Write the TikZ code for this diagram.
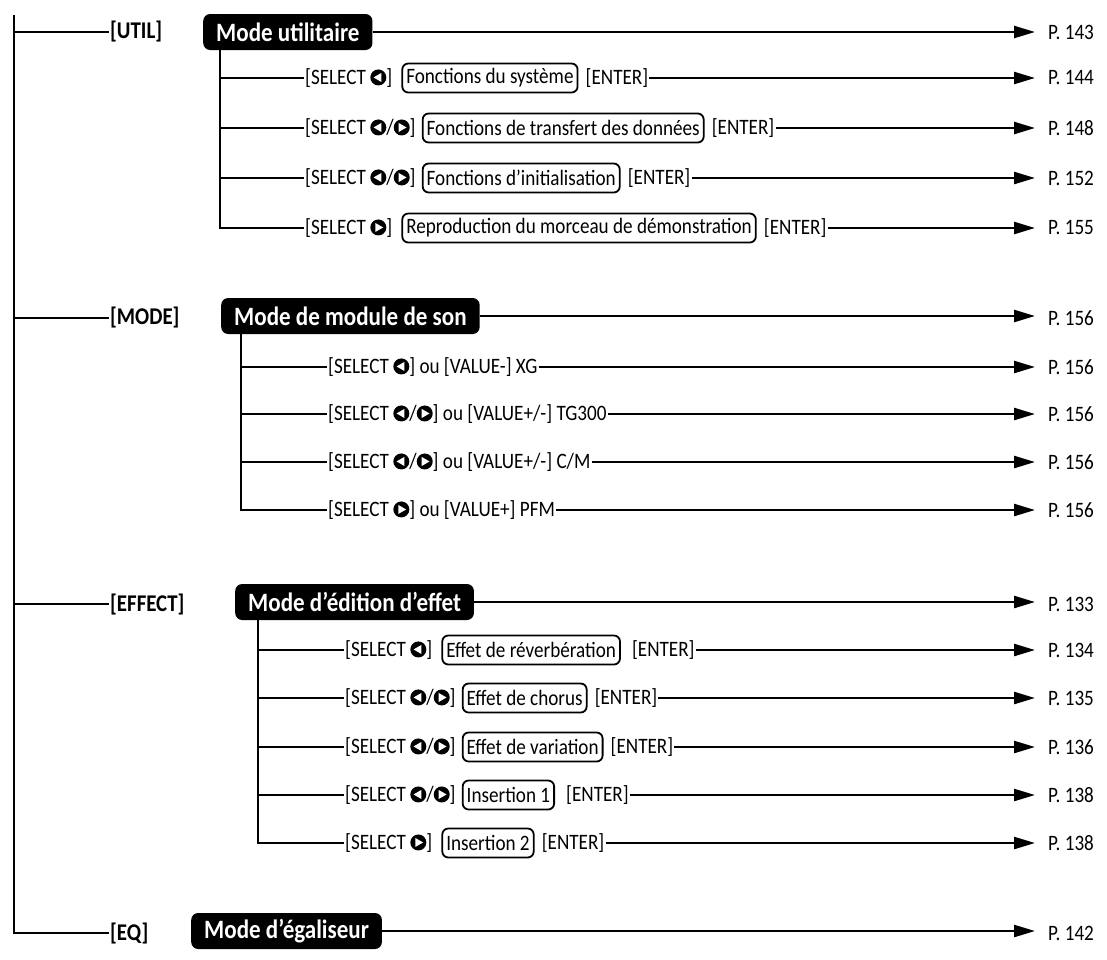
\documentclass[tikz,border=0pt]{standalone}
\usepackage{fontspec}
\setmainfont{Carlito}[FakeStretch=0.87]
\usetikzlibrary{arrows.meta, positioning}

% round select keys
\newcommand\selL{\tikz[baseline={(0pt,-7pt)}]{\fill (0pt,0pt) circle (8pt); \fill[white] (-4.8pt,0pt) -- (3pt,4.5pt) -- (3pt,-4.5pt) -- cycle;}}
\newcommand\selR{\tikz[baseline={(0pt,-7pt)}]{\fill (0pt,0pt) circle (8pt); \fill[white] (4.8pt,0pt) -- (-3pt,4.5pt) -- (-3pt,-4.5pt) -- cycle;}}

\begin{document}
\begin{tikzpicture}[x=1pt, y=-1pt, font=\fontsize{22}{25}\selectfont,
      >={Triangle[length=21pt, width=12pt]},
      trunk/.style={line width=2.8pt},
      branch/.style={line width=2.4pt},
      pointer/.style={line width=2.4pt, ->, shorten >=13pt},
      modebox/.style={fill=black, text=white, rounded corners=7pt, inner xsep=13pt, minimum height=36pt, anchor=west,
        font=\bfseries\fontsize{26.5}{30}\selectfont},
      keylabel/.style={font=\bfseries\fontsize{24}{26}\selectfont, inner sep=1pt, anchor=west},
      fnbox/.style={draw, line width=1.8pt, rounded corners=6pt, inner xsep=4pt, inner ysep=2pt, minimum height=29pt},
      item/.style={inner sep=1pt, anchor=west},
      page/.style={inner sep=0pt, anchor=west}]
    \useasboundingbox (0,0) rectangle (1107,959);
    \coordinate (root) at (14,15);

    % utilitaire
    \node[keylabel] (kutil) at (109,32) {[UTIL]};
    \node[modebox] (mutil) at (203,32) {Mode utilitaire};
    \node[page] (putil) at (1048,32) {P. 143};
    \coordinate (sutil) at ([xshift=17pt]mutil.south west);
    \node[item] (u1) at (304,78) {[SELECT \selL]};
    \node[fnbox, right=8pt of u1] (u1f) {Fonctions du système};
    \node[item, right=6pt of u1f] (u1e) {[ENTER]};
    \node[page] (u1p) at (1048,78) {P. 144};
    \node[item] (u2) at (304,128) {[SELECT \selL/\selR]};
    \node[fnbox, right=5pt of u2] (u2f) {Fonctions de transfert des données};
    \node[item, right=6pt of u2f] (u2e) {[ENTER]};
    \node[page] (u2p) at (1048,128) {P. 148};
    \node[item] (u3) at (304,178) {[SELECT \selL/\selR]};
    \node[fnbox, right=5pt of u3] (u3f) {Fonctions d'initialisation};
    \node[item, right=6pt of u3f] (u3e) {[ENTER]};
    \node[page] (u3p) at (1048,178) {P. 152};
    \node[item] (u4) at (304,228) {[SELECT \selR]};
    \node[fnbox, right=8pt of u4] (u4f) {Reproduction du morceau de démonstration};
    \node[item, right=6pt of u4f] (u4e) {[ENTER]};
    \node[page] (u4p) at (1048,228) {P. 155};

    % module de son
    \node[keylabel] (kmode) at (109,318) {[MODE]};
    \node[modebox] (mmode) at (221,316) {Mode de module de son};
    \node[page] (pmode) at (1048,318) {P. 156};
    \coordinate (smode) at ([xshift=20pt]mmode.south west);
    \node[item] (s1) at (327,367) {[SELECT \selL] ou [VALUE-] XG};
    \node[page] (s1p) at (1048,367) {P. 156};
    \node[item] (s2) at (327,414) {[SELECT \selL/\selR] ou [VALUE+/-] TG300};
    \node[page] (s2p) at (1048,414) {P. 156};
    \node[item] (s3) at (327,462) {[SELECT \selL/\selR] ou [VALUE+/-] C/M};
    \node[page] (s3p) at (1048,462) {P. 156};
    \node[item] (s4) at (327,510) {[SELECT \selR] ou [VALUE+] PFM};
    \node[page] (s4p) at (1048,510) {P. 156};

    % edition d'effet
    \node[keylabel] (keff) at (109,604) {[EFFECT]};
    \node[modebox] (meff) at (235,602) {Mode d'édition d'effet};
    \node[page] (peff) at (1048,604) {P. 133};
    \coordinate (seff) at ([xshift=23pt]meff.south west);
    \node[item] (e1) at (344,650) {[SELECT \selL]};
    \node[fnbox, right=8pt of e1] (e1f) {Effet de réverbération};
    \node[item, right=10pt of e1f] (e1e) {[ENTER]};
    \node[page] (e1p) at (1048,650) {P. 134};
    \node[item] (e2) at (344,698) {[SELECT \selL/\selR]};
    \node[fnbox, right=5pt of e2] (e2f) {Effet de chorus};
    \node[item, right=6pt of e2f] (e2e) {[ENTER]};
    \node[page] (e2p) at (1048,698) {P. 135};
    \node[item] (e3) at (344,747) {[SELECT \selL/\selR]};
    \node[fnbox, right=5pt of e3] (e3f) {Effet de variation};
    \node[item, right=6pt of e3f] (e3e) {[ENTER]};
    \node[page] (e3p) at (1048,747) {P. 136};
    \node[item] (e4) at (344,795) {[SELECT \selL/\selR]};
    \node[fnbox, right=5pt of e4] (e4f) {Insertion 1};
    \node[item, right=10pt of e4f] (e4e) {[ENTER]};
    \node[page] (e4p) at (1048,795) {P. 138};
    \node[item] (e5) at (344,843) {[SELECT \selR]};
    \node[fnbox, right=8pt of e5] (e5f) {Insertion 2};
    \node[item, right=6pt of e5f] (e5e) {[ENTER]};
    \node[page] (e5p) at (1048,843) {P. 138};

    % egaliseur
    \node[keylabel] (keq) at (109,933) {[EQ]};
    \node[modebox] (meq) at (191,931) {Mode d'égaliseur};
    \node[page] (peq) at (1048,933) {P. 142};

    % trunk and branches
    \draw[trunk] (root) |- (keq.west);
    \foreach \k in {kutil, kmode, keff}
      \draw[branch] (\k.west -| root) -- (\k.west);
    \foreach \m/\p in {mutil/putil, mmode/pmode, meff/peff, meq/peq}
      \draw[pointer] (\m.east) -- (\m.east -| \p.west);

    \draw[trunk] (sutil) |- (u4.west);
    \foreach \r in {u1, u2, u3}
      \draw[branch] (\r.west -| sutil) -- (\r.west);
    \draw[trunk] (smode) |- (s4.west);
    \foreach \r in {s1, s2, s3}
      \draw[branch] (\r.west -| smode) -- (\r.west);
    \draw[trunk] (seff) |- (e5.west);
    \foreach \r in {e1, e2, e3, e4}
      \draw[branch] (\r.west -| seff) -- (\r.west);

    \foreach \r/\p in {u1e/u1p, u2e/u2p, u3e/u3p, u4e/u4p, s1/s1p, s2/s2p, s3/s3p, s4/s4p,
                       e1e/e1p, e2e/e2p, e3e/e3p, e4e/e4p, e5e/e5p}
      \draw[pointer] (\r.east) -- (\r.east -| \p.west);
  \end{tikzpicture}
\end{document}
